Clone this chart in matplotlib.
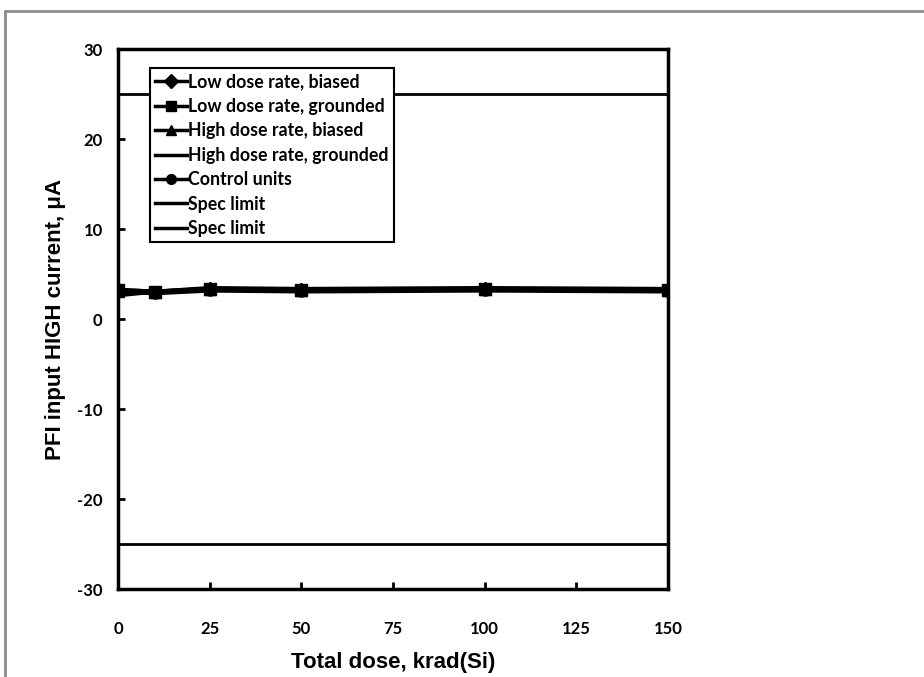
import matplotlib
matplotlib.use("Agg")
import matplotlib.pyplot as plt
from matplotlib.patches import Rectangle

plt.rcParams['axes.unicode_minus'] = False

dose = [0, 10, 25, 50, 100, 150]
low_biased = [3.2, 3.0, 3.4, 3.3, 3.4, 3.3]
low_grounded = [3.2, 3.0, 3.3, 3.2, 3.3, 3.2]
high_biased = [3.1, 3.0, 3.3, 3.2, 3.3, 3.2]
high_grounded = [2.6, 3.0, 3.2, 3.2, 3.2, 3.2]
control = [3.1, 2.9, 3.2, 3.1, 3.2, 3.1]
spec_x = [0, 150]
spec_hi = [25, 25]
spec_lo = [-25, -25]

fig = plt.figure(figsize=(9.24, 6.77), dpi=100)
fig.patches.append(Rectangle((5/924, -0.1), 1.2, 1 - 10.5/677 + 0.1,
                             transform=fig.transFigure, fill=False,
                             edgecolor="#8c8c8c", linewidth=2))
ax = fig.add_axes([118/924, 1-589/677, 550/924, 540/677])

ax.plot(dose, low_biased, color="black", lw=3.5, marker="D", ms=6, label="Low dose rate, biased")
ax.plot(dose, low_grounded, color="black", lw=3.5, marker="s", ms=8, label="Low dose rate, grounded")
ax.plot(dose, high_biased, color="black", lw=3.5, marker="^", ms=8, label="High dose rate, biased")
ax.plot(dose, high_grounded, color="black", lw=2.5, label="High dose rate, grounded")
ax.plot(dose, control, color="black", lw=3.5, marker="o", ms=8, label="Control units")
ax.plot(spec_x, spec_hi, color="black", lw=2, label="Spec limit")
ax.plot(spec_x, spec_lo, color="black", lw=2, label="Spec limit")

ax.set_xlim(0, 150)
ax.set_ylim(-30, 30)
ax.set_xticks([0, 25, 50, 75, 100, 125, 150])
ax.set_yticks([-30, -20, -10, 0, 10, 20, 30])
for s in ax.spines.values():
    s.set_linewidth(2.5)
ax.tick_params(direction="in", length=5, width=2, labelsize=12)
ax.tick_params(axis="x", pad=23)
ax.tick_params(axis="y", pad=11)
for lab in ax.get_xticklabels() + ax.get_yticklabels():
    lab.set_fontweight("bold")
    lab.set_fontfamily("Lato")

ax.set_xlabel("Total dose, krad(Si)", fontsize=16, fontweight="bold",
              fontfamily="Liberation Sans", labelpad=11)
ax.set_ylabel("PFI input HIGH current, μA", fontsize=16, fontweight="bold",
              fontfamily="Liberation Sans", labelpad=8)

leg = ax.legend(loc="upper left", bbox_to_anchor=((150-118)/550, (589-68)/540),
                frameon=True, fancybox=False, framealpha=1, edgecolor="black",
                prop={"family": "Lato", "weight": "bold", "size": 12.8},
                handlelength=1.8, handletextpad=0.05, borderpad=0.3,
                labelspacing=0.42, borderaxespad=0)
leg.get_frame().set_linewidth(1.5)
for h in leg.get_lines():
    h.set_linewidth(2.5)
    h.set_markersize(7)

fig.savefig("out.png", dpi=100)
